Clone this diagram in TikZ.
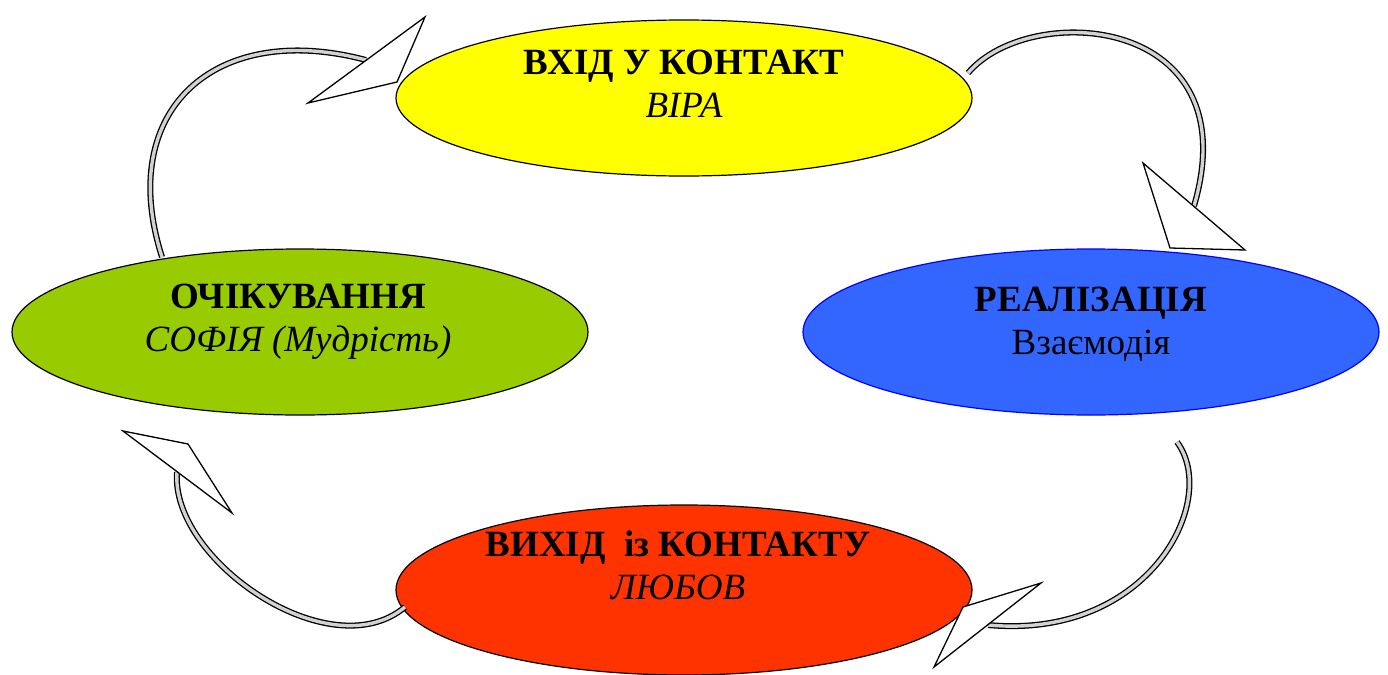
\documentclass[tikz,border=0pt]{standalone}
\usepackage{fontspec}
\setmainfont{Liberation Serif}
\definecolor{vhidyellow}{HTML}{FFFF00}
\definecolor{ochikgreen}{HTML}{99CC00}
\definecolor{realblue}{HTML}{3366FF}
\definecolor{vyhidred}{HTML}{FF3300}
\tikzset{
  stage/.style={ellipse, draw, line width=0.6pt, inner sep=0pt, minimum width=288pt},
  caption/.style={align=center, font=\fontsize{18.5}{21.5}\selectfont},
  band/.style={double=gray!35, double distance=1.7pt, line width=0.65pt},
  head/.style={draw, fill=white, line width=0.65pt, line join=miter}
}
\usetikzlibrary{shapes.geometric}

\begin{document}
\begin{tikzpicture}[x=0.5pt,y=-0.5pt]
\useasboundingbox (0,0) rectangle (1388,675);
\node[stage, fill=vhidyellow, minimum height=78pt] (vhid) at (684,98) {};
\node[stage, fill=ochikgreen, minimum height=83pt] (ochik) at (300,332) {};
\node[stage, fill=realblue, draw=blue, minimum height=83pt] (real) at (1091,332) {};
\node[stage, fill=vyhidred, minimum height=85pt] (vyhid) at (684,590) {};
\node[caption] (vhidtext) at (684,84) {\textbf{ВХІД У КОНТАКТ}\\\textit{ВІРА}};
\node[caption] (ochiktext) at (298,322) {\textbf{ОЧІКУВАННЯ}\\\textit{СОФІЯ (Мудрість)}};
\node[caption] (realtext) at (1091,324) {\textbf{РЕАЛІЗАЦІЯ}\\Взаємодія};
\node[caption] (vyhidtext) at (678,565) {\textbf{ВИХІД\ \ із КОНТАКТУ}\\\textit{ЛЮБОВ}};
% curved arrows
\coordinate (a1s) at (162,257);
\coordinate (a1e) at (366,60);
\draw[band] (a1s) .. controls (115,110) and (215,20) .. (a1e);
\draw[head] (425,17) -- (397,82) -- (308,103) -- cycle;
\coordinate (a2s) at (968,73);
\coordinate (a2e) at (1194,206);
\draw[band] (a2s) .. controls (1030,0) and (1250,15) .. (a2e);
\draw[head] (1143,163) -- (1170,248) -- (1245,250) -- cycle;
\coordinate (a3s) at (1177,442);
\coordinate (a3e) at (988,625);
\draw[band] (a3s) .. controls (1220,500) and (1150,640) .. (a3e);
\draw[head] (1041,583) -- (963,607) -- (934,667) -- cycle;
\coordinate (a4s) at (405,607);
\coordinate (a4e) at (177,472);
\draw[band] (a4s) .. controls (330,670) and (170,560) .. (a4e);
\draw[head] (123,431) -- (188,444) -- (232,513) -- cycle;
\end{tikzpicture}
\end{document}
